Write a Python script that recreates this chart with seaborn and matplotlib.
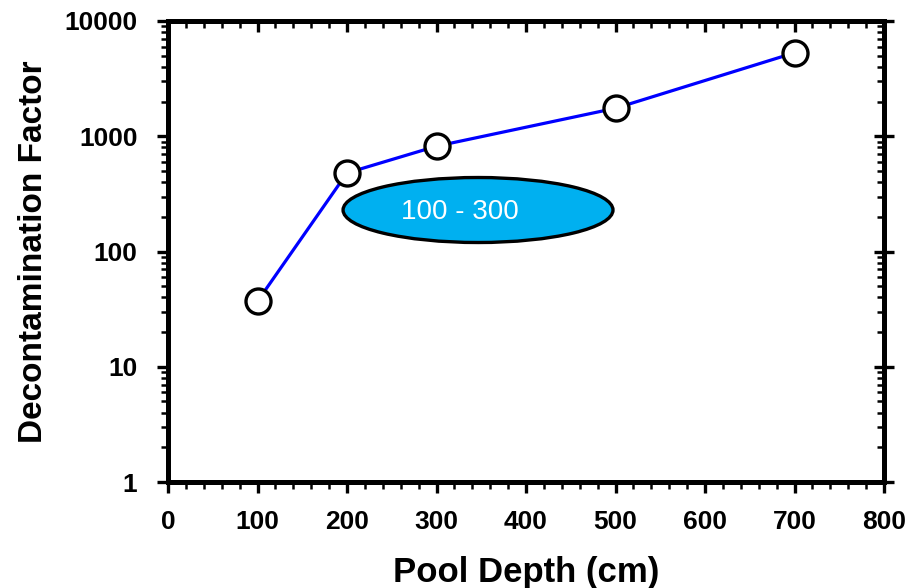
import numpy as np
import pandas as pd
import matplotlib
matplotlib.use("Agg")
import matplotlib.pyplot as plt
import seaborn as sns
from matplotlib.patches import Ellipse
from matplotlib.ticker import MultipleLocator, LogLocator, NullFormatter, FixedLocator

depth = [100, 200, 300, 500, 700]
df_factor = [37, 480, 820, 1750, 5300]
x_ticks = [0, 100, 200, 300, 400, 500, 600, 700, 800]
y_ticks = [1, 10, 100, 1000, 10000]
y_labels = ["1", "10", "100", "1000", "10000"]
range_label = "100 - 300"

sns.set_style("ticks")
plt.rcParams["font.family"] = ["Liberation Sans", "DejaVu Sans"]
plt.rcParams["text.color"] = "black"
plt.rcParams["axes.labelcolor"] = "black"
plt.rcParams["xtick.color"] = "black"
plt.rcParams["ytick.color"] = "black"
plt.rcParams["axes.edgecolor"] = "black"

df = pd.DataFrame({"depth": depth, "df": df_factor})

fig = plt.figure(figsize=(9.11, 5.88), dpi=100)
ax = fig.add_axes([168 / 911, 1 - 482 / 588, 716 / 911, 461 / 588])

sns.lineplot(data=df, x="depth", y="df", ax=ax, color="#0000ff", linewidth=2.3,
             marker="o", markersize=18, markerfacecolor="white",
             markeredgecolor="black", markeredgewidth=2.4, zorder=5)

ax.set_yscale("log")
ax.set_xlim(0, 800)
ax.set_ylim(1, 10000)

ax.xaxis.set_major_locator(FixedLocator(x_ticks))
ax.xaxis.set_minor_locator(MultipleLocator(20))
ax.yaxis.set_major_locator(FixedLocator(y_ticks))
ax.set_yticklabels(y_labels)
ax.yaxis.set_minor_locator(LogLocator(base=10, subs=np.arange(2, 10)))
ax.yaxis.set_minor_formatter(NullFormatter())

for lab in ax.get_xticklabels() + ax.get_yticklabels():
    lab.set_fontweight("bold")
    lab.set_fontsize(19)

ax.tick_params(axis="x", which="major", direction="out", length=8, width=2.4, pad=12)
ax.tick_params(axis="y", which="major", direction="out", length=8, width=2.4, pad=14)
ax.tick_params(axis="both", which="minor", direction="out", length=5, width=1.8)

for s in ax.spines.values():
    s.set_linewidth(3.6)
    s.set_visible(True)

# top and right axes with inward ticks
top = ax.secondary_xaxis("top")
top.xaxis.set_major_locator(FixedLocator(x_ticks))
top.xaxis.set_minor_locator(MultipleLocator(20))
top.tick_params(which="major", direction="in", length=8, width=2.4, labeltop=False)
top.tick_params(which="minor", direction="in", length=5, width=1.8)
top.spines["top"].set_linewidth(3.6)

right = ax.secondary_yaxis("right")
right.yaxis.set_major_locator(FixedLocator(y_ticks))
right.yaxis.set_minor_locator(LogLocator(base=10, subs=np.arange(2, 10)))
right.yaxis.set_minor_formatter(NullFormatter())
right.tick_params(which="major", direction="inout", length=14, width=2.4, labelright=False)
right.tick_params(which="minor", direction="in", length=5, width=1.8)
right.spines["right"].set_linewidth(3.6)

ax.set_xlabel("Pool Depth (cm)", fontsize=25, fontweight="bold", labelpad=16)
ax.set_ylabel("Decontamination Factor", fontsize=24, fontweight="bold", labelpad=11)

ell = Ellipse((0.433, 0.59), 0.377, 0.141, transform=ax.transAxes,
              facecolor="#00b0f0", edgecolor="black", linewidth=2.4, zorder=4)
ax.add_patch(ell)
ax.text(0.408, 0.585, range_label, transform=ax.transAxes, ha="center", va="center",
        color="white", fontsize=20, zorder=6)

fig.savefig("out.png", dpi=100)
